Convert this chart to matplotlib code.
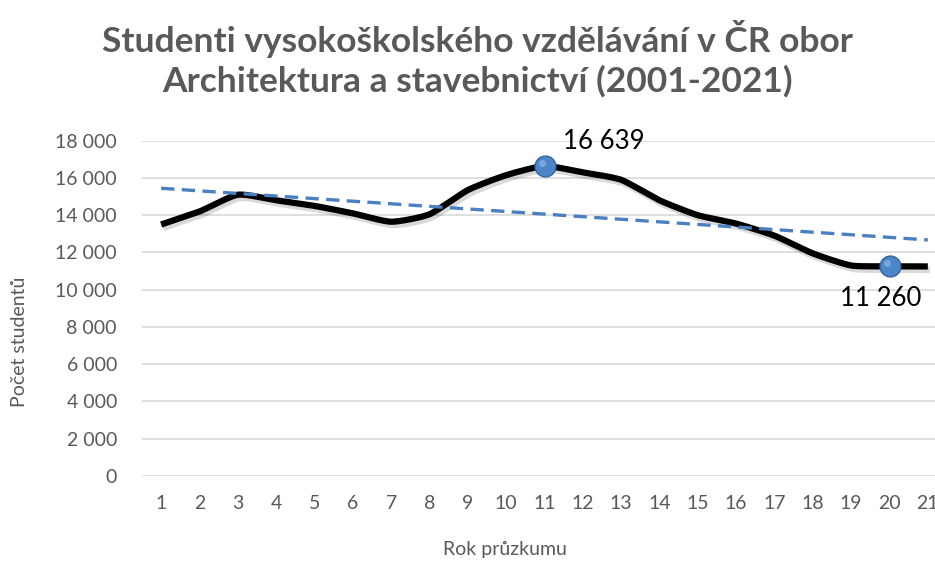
import numpy as np
import matplotlib
matplotlib.use("Agg")
import matplotlib.pyplot as plt
import matplotlib.patheffects as pe

years = list(range(1, 22))
students = [13500, 14200, 15100, 14800, 14500, 14100, 13650, 14050, 15350, 16150,
            16639, 16300, 15900, 14800, 14000, 13550, 12900, 11950, 11300, 11260, 11250]
highlight_idx = [10, 19]
title = "Studenti vysokoškolského vzdělávání v ČR obor\nArchitektura a stavebnictví (2001-2021)"
xlabel = "Rok průzkumu"
ylabel = "Počet studentů"
yticks = list(range(0, 18001, 2000))

plt.rcParams['font.family'] = ['Lato', 'DejaVu Sans']
gray = '#595959'

fig = plt.figure(figsize=(9.35, 5.63), dpi=100)
ax = fig.add_axes([142/935, 1-476/563, 805/935, (476-140.7)/563])
ax.set_xlim(0.5, 21.5)
ax.set_ylim(0, 18000)

for s in ax.spines.values():
    s.set_visible(False)
ax.set_yticks(yticks)
ax.set_yticklabels([f"{v:,}".replace(",", " ") for v in yticks], fontsize=14, color=gray)
ax.set_xticks(years)
ax.set_xticklabels([str(y) for y in years], fontsize=14, color=gray)
ax.tick_params(length=0)
ax.tick_params(axis='y', pad=18)
ax.tick_params(axis='x', pad=14)
ax.grid(axis='y', color='#d9d9d9', linewidth=1.2)
ax.set_axisbelow(True)

# cardinal-spline smoothing (Excel-like smoothed line rendering)
x = np.array(years, dtype=float)
y = np.array(students, dtype=float)
px = np.concatenate([[2*x[0]-x[1]], x, [2*x[-1]-x[-2]]])
py = np.concatenate([[2*y[0]-y[1]], y, [2*y[-1]-y[-2]]])
tension = 0.6
xs, ys = [], []
t = np.linspace(0, 1, 20)
h00 = 2*t**3 - 3*t**2 + 1
h10 = t**3 - 2*t**2 + t
h01 = -2*t**3 + 3*t**2
h11 = t**3 - t**2
for i in range(1, len(px)-2):
    for src, arr in ((px, xs), (py, ys)):
        m1 = tension*0.5*(src[i+1]-src[i-1])
        m2 = tension*0.5*(src[i+2]-src[i])
        arr.extend(h00*src[i] + h10*m1 + h01*src[i+1] + h11*m2)

ax.plot(xs, ys, color='black', linewidth=4.5, solid_capstyle='butt', zorder=3,
        path_effects=[pe.SimpleLineShadow(offset=(1.5, -2.5), alpha=0.15, shadow_color='black'),
                      pe.Normal()])

# linear trend line
coef = np.polyfit(x, y, 1)
ax.plot(x, np.polyval(coef, x), color='#4a7fc1', linewidth=2.4, linestyle=(0, (4, 2.2)), zorder=4)

ax.plot(x[highlight_idx], y[highlight_idx], 'o', markersize=15, markerfacecolor='#4a86c8',
        markeredgecolor='#3565a3', markeredgewidth=1, zorder=5)
ax.plot(x[highlight_idx]-0.06, y[highlight_idx]+150, 'o', markersize=5, markerfacecolor='#8fb6e3',
        markeredgewidth=0, alpha=0.7, zorder=6)

ax.annotate(f"{students[10]:,}".replace(",", " "), (x[10], y[10]), xytext=(43, 18),
            textcoords='offset points', fontsize=18.5, color='black', ha='center', va='center')
ax.annotate(f"{students[19]:,}".replace(",", " "), (x[19], y[19]), xytext=(-6, -23),
            textcoords='offset points', fontsize=18.5, color='black', ha='center', va='center')

fig.text(477/935, 1-59/563, title, ha='center', va='center', fontsize=25.5, fontweight='bold',
         color=gray, linespacing=1.25)
fig.text(505/935, 1-550/563, xlabel, ha='center', va='center', fontsize=14, color=gray)
fig.text(20/935, 1-342/563, ylabel, ha='center', va='center', fontsize=14, color=gray, rotation=90)

fig.savefig("out.png", dpi=100)
